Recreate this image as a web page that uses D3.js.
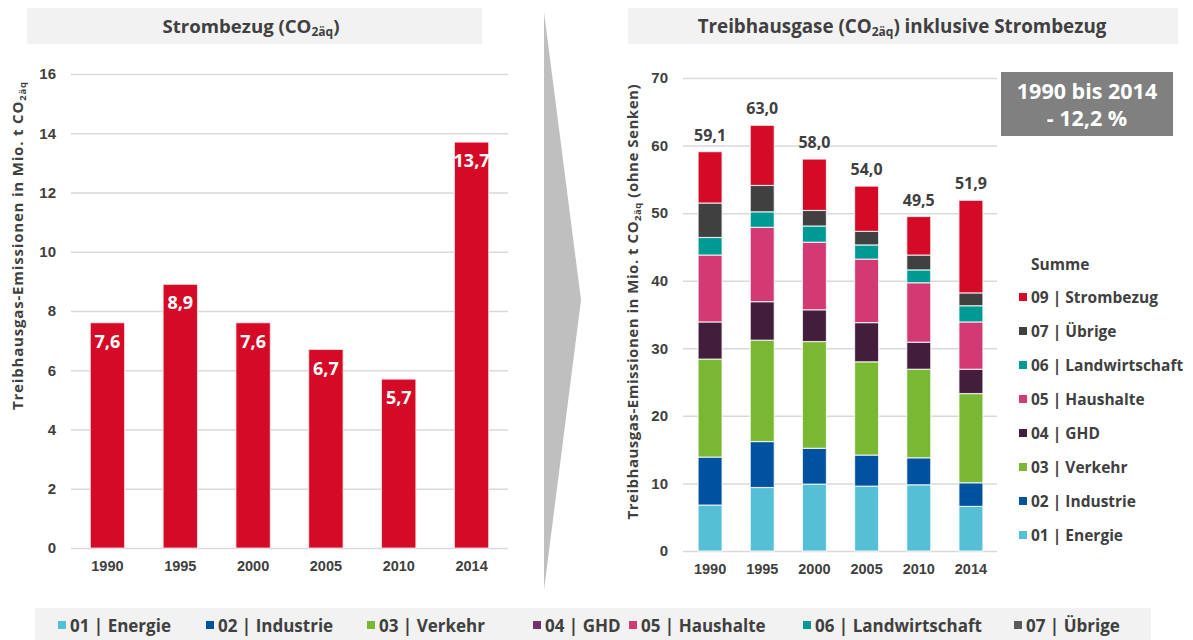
<!DOCTYPE html>
<html>
<head>
<meta charset="utf-8">
<script src="https://cdn.jsdelivr.net/npm/d3@7"></script>
<style>
  html, body { margin: 0; padding: 0; background: #fff; }
  svg { display: block; font-family: "Open Sans", "Noto Sans", sans-serif; }
  .tick text { font-weight: 700; fill: #404040; }
</style>
</head>
<body>
<svg id="chart" width="1193" height="640"></svg>
<script>
// Jahre und Werte (Mio. t CO2-Äquivalente)
const years = ["1990", "1995", "2000", "2005", "2010", "2014"];
const strombezug = [7.6, 8.9, 7.6, 6.7, 5.7, 13.7];

const sectors = ["01 | Energie", "02 | Industrie", "03 | Verkehr", "04 | GHD",
                 "05 | Haushalte", "06 | Landwirtschaft", "07 | Übrige", "09 | Strombezug"];
const energie        = [6.8, 9.4, 9.9, 9.6, 9.8, 6.6];
const industrie      = [7.1, 6.8, 5.3, 4.6, 4.0, 3.5];
const verkehr        = [14.5, 15.0, 15.8, 13.8, 13.1, 13.2];
const ghd            = [5.5, 5.7, 4.7, 5.8, 4.0, 3.6];
const haushalte      = [9.9, 11.0, 10.0, 9.4, 8.8, 7.0];
const landwirtschaft = [2.6, 2.3, 2.4, 2.1, 1.9, 2.4];
const uebrige        = [5.1, 3.9, 2.3, 2.0, 2.2, 1.9];
const summe          = [59.1, 63.0, 58.0, 54.0, 49.5, 51.9];

const leftTicks = [0, 2, 4, 6, 8, 10, 12, 14, 16];
const rightTicks = [0, 10, 20, 30, 40, 50, 60, 70];

const colors = ["#55bfd6", "#0052a0", "#7ab733", "#421d3c", "#d33a73", "#009a94", "#404040", "#d40a27"];
const bottomSwatch = ["#55bfd6", "#0052a0", "#7ab733", "#74306b", "#d33a73", "#009a94", "#595959"];

const fmt = v => v.toFixed(1).replace(".", ",");
const textCol = "#404040";
const gridCol = "#d9d9d9";

const svg = d3.select("#chart");

// Hilfsfunktion: Text mit tiefgestelltem "2äq"
function subText(sel, before, sub, after, subSize) {
  sel.append("tspan").text(before);
  sel.append("tspan").attr("baseline-shift", "-28%").attr("font-size", subSize).text(sub);
  if (after) sel.append("tspan").text(after);
}

// ---------- Titelbalken ----------
svg.append("rect").attr("x", 27).attr("y", 8).attr("width", 455).attr("height", 36).attr("fill", "#f2f2f2");
subText(svg.append("text").attr("x", 251).attr("y", 33).attr("text-anchor", "middle")
  .attr("font-size", 18.6).attr("font-weight", 700).attr("fill", textCol),
  "Strombezug (CO", "2äq", ")", 12);

svg.append("rect").attr("x", 628).attr("y", 8).attr("width", 550).attr("height", 36).attr("fill", "#f2f2f2");
subText(svg.append("text").attr("x", 902).attr("y", 33).attr("text-anchor", "middle")
  .attr("font-size", 18.8).attr("font-weight", 700).attr("fill", textCol),
  "Treibhausgase (CO", "2äq", ") inklusive Strombezug", 12);

// ---------- Pfeil ----------
svg.append("path")
  .attr("d", "M544,12 L581,300 L544,590 Z")
  .attr("fill", "#bfbfbf");

// ---------- Linkes Diagramm: Strombezug ----------
const xL = d3.scaleBand().domain(years).range([71, 508]).paddingInner(0.53).paddingOuter(0.265);
const yL = d3.scaleLinear().domain([0, 16]).range([548, 74]);

const gyL = svg.append("g").attr("transform", "translate(71,0)")
  .call(d3.axisLeft(yL).tickValues(leftTicks).tickSize(-437).tickPadding(15).tickFormat(d3.format("d")));
gyL.select(".domain").remove();
gyL.selectAll(".tick line").attr("stroke", gridCol).attr("stroke-width", 1.5);
gyL.selectAll(".tick text").attr("font-size", 15);

svg.append("g").selectAll("rect").data(years).join("rect")
  .attr("x", d => xL(d))
  .attr("width", xL.bandwidth())
  .attr("y", (d, i) => yL(strombezug[i]))
  .attr("height", (d, i) => yL(0) - yL(strombezug[i]))
  .attr("fill", colors[7])
  .attr("stroke", "#fbe3e6").attr("stroke-width", 0.8);

svg.append("g").selectAll("text").data(years).join("text")
  .attr("x", d => xL(d) + xL.bandwidth() / 2)
  .attr("y", (d, i) => yL(strombezug[i]) + 25)
  .attr("text-anchor", "middle")
  .attr("font-size", 18).attr("font-weight", 700).attr("fill", "#fff")
  .text((d, i) => fmt(strombezug[i]));

const gxL = svg.append("g").attr("transform", "translate(0,548)")
  .call(d3.axisBottom(xL).tickSize(0).tickPadding(13));
gxL.select(".domain").remove();
gxL.selectAll(".tick text").attr("font-size", 14.5);

const tL = svg.append("text")
  .attr("transform", "translate(23,246) rotate(-90)")
  .attr("text-anchor", "middle").attr("font-size", 15).attr("font-weight", 700).attr("fill", textCol)
  .attr("textLength", 328).attr("lengthAdjust", "spacing");
subText(tL, "Treibhausgas-Emissionen in Mio. t CO", "2äq", null, 9.5);

// ---------- Rechtes Diagramm: gestapelte Sektoren ----------
const xR = d3.scaleBand().domain(years).range([684, 997]).paddingInner(0.54).paddingOuter(0.27);
const yR = d3.scaleLinear().domain([0, 70]).range([551, 78]);

const gyR = svg.append("g").attr("transform", "translate(683,0)")
  .call(d3.axisLeft(yR).tickValues(rightTicks).tickSize(-314).tickPadding(15).tickFormat(d3.format("d")));
gyR.select(".domain").remove();
gyR.selectAll(".tick line").attr("stroke", gridCol).attr("stroke-width", 1.5);
gyR.selectAll(".tick text").attr("font-size", 15);

const series = [energie, industrie, verkehr, ghd, haushalte, landwirtschaft, uebrige, strombezug];
const rows = years.map((y, i) => {
  const r = { year: y };
  sectors.forEach((s, k) => { r[s] = series[k][i]; });
  return r;
});
const stacked = d3.stack().keys(sectors)(rows);

svg.append("g").selectAll("g").data(stacked).join("g")
  .attr("fill", (d, k) => colors[k])
  .selectAll("rect").data(d => d).join("rect")
  .attr("x", d => xR(d.data.year))
  .attr("width", xR.bandwidth())
  .attr("y", d => yR(d[1]))
  .attr("height", d => yR(d[0]) - yR(d[1]))
  .attr("stroke", "#fff").attr("stroke-opacity", 0.75).attr("stroke-width", 1.2);

svg.append("g").selectAll("text").data(years).join("text")
  .attr("x", d => xR(d) + xR.bandwidth() / 2)
  .attr("y", (d, i) => yR(summe[i]) - 11)
  .attr("text-anchor", "middle")
  .attr("font-size", 16).attr("font-weight", 700).attr("fill", textCol)
  .text((d, i) => fmt(summe[i]));

const gxR = svg.append("g").attr("transform", "translate(0,551)")
  .call(d3.axisBottom(xR).tickSize(0).tickPadding(13));
gxR.select(".domain").remove();
gxR.selectAll(".tick text").attr("font-size", 14.5);

const tR = svg.append("text")
  .attr("transform", "translate(638,302) rotate(-90)")
  .attr("text-anchor", "middle").attr("font-size", 15).attr("font-weight", 700).attr("fill", textCol)
  .attr("textLength", 435).attr("lengthAdjust", "spacing");
subText(tR, "Treibhausgas-Emissionen in Mio. t CO", "2äq", "  (ohne Senken)", 9.5);

// Veränderung 1990 bis 2014
svg.append("rect").attr("x", 1001).attr("y", 72).attr("width", 172).attr("height", 64).attr("fill", "#808080");
svg.append("text").attr("x", 1087).attr("y", 99).attr("text-anchor", "middle")
  .attr("font-size", 21.5).attr("font-weight", 700).attr("fill", "#fff").text("1990 bis 2014");
svg.append("text").attr("x", 1087).attr("y", 126).attr("text-anchor", "middle")
  .attr("font-size", 21.5).attr("font-weight", 700).attr("fill", "#fff").text("- 12,2 %");

// Legende rechts (oberster Stapel zuerst)
const legR = svg.append("g");
legR.append("text").attr("x", 1031).attr("y", 270)
  .attr("font-size", 15.5).attr("font-weight", 700).attr("fill", textCol).text("Summe");
const legItems = sectors.map((s, k) => ({ s, c: colors[k] })).reverse();
const legG = legR.selectAll("g.item").data(legItems).join("g").attr("class", "item")
  .attr("transform", (d, i) => `translate(0,${298 + i * 34})`);
legG.append("rect").attr("x", 1019).attr("y", -5).attr("width", 8).attr("height", 8).attr("fill", d => d.c);
legG.append("text").attr("x", 1031).attr("y", 5)
  .attr("font-size", 15.5).attr("font-weight", 700).attr("fill", textCol).text(d => d.s);

// Legende unten
svg.append("rect").attr("x", 35).attr("y", 608).attr("width", 1116).attr("height", 32).attr("fill", "#f2f2f2");
const bottomX = [70, 218, 379, 545, 641, 815, 1026];
const legB = svg.append("g").selectAll("g").data(sectors.slice(0, 7)).join("g")
  .attr("transform", (d, i) => `translate(${bottomX[i]},625)`);
legB.append("rect").attr("x", -12).attr("y", -4).attr("width", 8).attr("height", 8).attr("fill", (d, i) => bottomSwatch[i]);
legB.append("text").attr("x", 0).attr("y", 7)
  .attr("font-size", 17).attr("font-weight", 700).attr("fill", textCol).text(d => d);
</script>
</body>
</html>
